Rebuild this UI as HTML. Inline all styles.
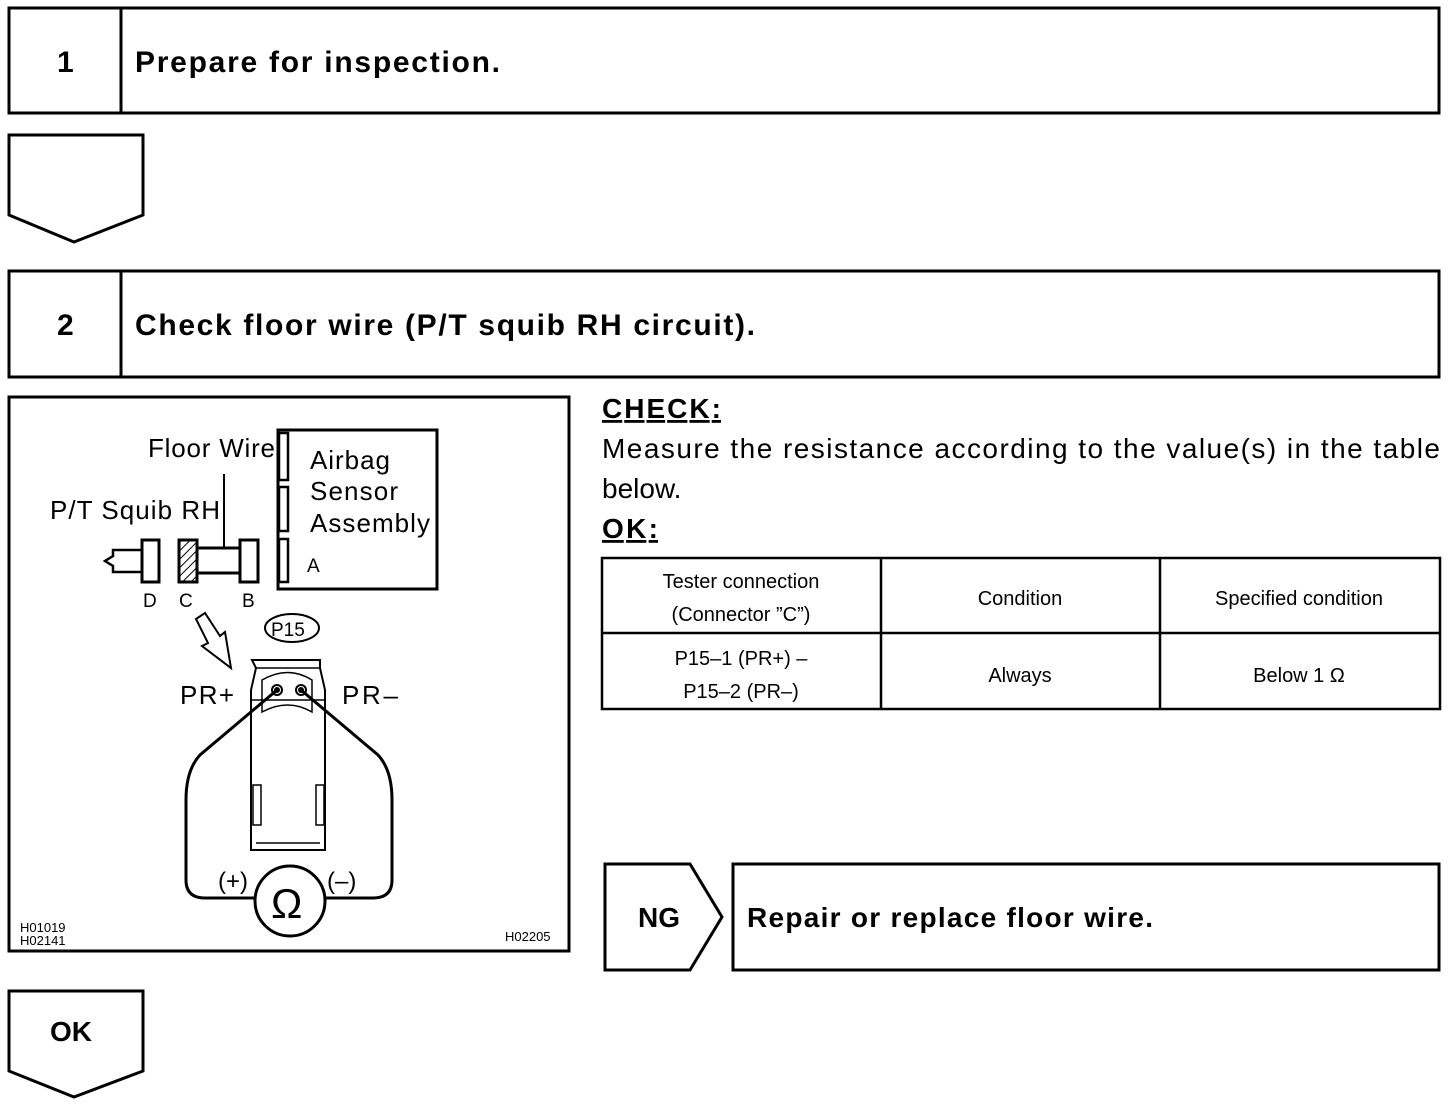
<!DOCTYPE html>
<html><head><meta charset="utf-8"><style>
html,body{margin:0;padding:0;background:#fff}
svg{display:block}
text{font-family:"Liberation Sans",Arial,sans-serif;fill:#000}
</style></head><body>
<svg width="1456" height="1106" viewBox="0 0 1456 1106" xmlns="http://www.w3.org/2000/svg">
<g fill="none" stroke="#000" stroke-width="3">
<rect x="9" y="8" width="1430" height="105"/>
<line x1="121" y1="8" x2="121" y2="113"/>
<path d="M9 135 H143 V215 L74 242 L9 215 Z"/>
<rect x="9" y="271" width="1430" height="106"/>
<line x1="121" y1="271" x2="121" y2="377"/>
<rect x="9" y="397" width="560" height="554"/>
<rect x="602" y="558" width="838" height="151" stroke-width="2.5"/>
<line x1="881" y1="558" x2="881" y2="709" stroke-width="2.5"/>
<line x1="1160" y1="558" x2="1160" y2="709" stroke-width="2.5"/>
<line x1="602" y1="633" x2="1440" y2="633" stroke-width="2.5"/>
<path d="M605 864 H690 L722 917 L690 970 H605 Z"/>
<rect x="733" y="864" width="706" height="106"/>
<path d="M9 991 H143 V1071 L74 1097 L9 1071 Z"/>
</g>
<text x="57" y="72" font-size="30" font-weight="bold">1</text>
<text x="135" y="72" font-size="30" font-weight="bold" textLength="365" lengthAdjust="spacing">Prepare for inspection.</text>
<text x="57" y="335" font-size="30" font-weight="bold">2</text>
<text x="135" y="335" font-size="30" font-weight="bold" textLength="620" lengthAdjust="spacing">Check floor wire (P/T squib RH circuit).</text>
<text x="602" y="418" font-size="28" font-weight="bold" text-decoration="underline" textLength="119">CHECK:</text>
<text x="602" y="458" font-size="28" textLength="838" lengthAdjust="spacing">Measure the resistance according to the value(s) in the table</text>
<text x="602" y="498" font-size="28">below.</text>
<text x="602" y="538" font-size="28" font-weight="bold" text-decoration="underline" textLength="56">OK:</text>
<g font-size="20" text-anchor="middle">
<text x="741" y="588">Tester connection</text>
<text x="741" y="621">(Connector ”C”)</text>
<text x="1020" y="605">Condition</text>
<text x="1299" y="605">Specified condition</text>
<text x="741" y="665">P15–1 (PR+) –</text>
<text x="741" y="698">P15–2 (PR–)</text>
<text x="1020" y="682">Always</text>
<text x="1299" y="682">Below 1 Ω</text>
</g>
<text x="638" y="927" font-size="28" font-weight="bold">NG</text>
<text x="747" y="927" font-size="28" font-weight="bold" textLength="406" lengthAdjust="spacing">Repair or replace floor wire.</text>
<text x="50" y="1041" font-size="28" font-weight="bold">OK</text>
<defs><pattern id="h" width="6" height="6" patternUnits="userSpaceOnUse" patternTransform="rotate(45)"><line x1="0" y1="0" x2="0" y2="6" stroke="#000" stroke-width="2"/></pattern></defs>
<g fill="none" stroke="#000" stroke-width="3">
<rect x="278" y="430" width="159" height="159"/>
<rect x="279" y="433" width="9" height="47" stroke-width="2.5"/>
<rect x="279" y="487" width="9" height="44" stroke-width="2.5"/>
<rect x="279" y="539" width="9" height="43" stroke-width="2.5"/>
<rect x="142" y="540" width="17" height="42"/>
<rect x="179" y="540" width="18" height="42" fill="url(#h)"/>
<rect x="240" y="540" width="18" height="42"/>
<path d="M197 548 H240 M197 573 H240"/>
<path d="M142 550 H113 V556 L105 561 L113 566 V572 H142" stroke-width="2.5"/>
<line x1="224" y1="474" x2="224" y2="548" stroke-width="2"/>
<ellipse cx="292" cy="628" rx="27" ry="14" stroke-width="2"/>
<path d="M196 619 L205 613 L220 636 L225 632 L231 668 L202 646 L208 643 Z" stroke-width="2"/>
<path d="M252 660 H320 V668 L325 690 V850 H251 V690 L256 668 Z" stroke-width="2"/>
<path d="M256 668 L320 668 M251 700 H325 M256 843 H320 M262 680 Q288 665 312 680 L312 712 Q288 698 262 712 Z" stroke-width="1.5"/>
<rect x="253" y="785" width="8" height="40" stroke-width="1.5"/>
<rect x="316" y="785" width="8" height="40" stroke-width="1.5"/>
<circle cx="277" cy="690" r="5" stroke-width="2"/>
<circle cx="301" cy="690" r="5" stroke-width="2"/>
<path d="M277 690 L200 755 Q186 770 186 800 V880 Q186 898 205 898 H255"/>
<path d="M301 690 L378 755 Q392 770 392 800 V880 Q392 898 373 898 H325"/>
<circle cx="290" cy="901" r="35"/>
</g>
<circle cx="277" cy="690" r="3" fill="#000"/><circle cx="301" cy="690" r="3" fill="#000"/>
<g font-size="26">
<text x="148" y="457" textLength="127">Floor Wire</text>
<text x="50" y="519" textLength="170">P/T Squib RH</text>
<text x="310" y="469" textLength="80">Airbag</text>
<text x="310" y="500" textLength="88">Sensor</text>
<text x="310" y="532" textLength="120">Assembly</text>
<text x="180" y="704" textLength="54">PR+</text>
<text x="342" y="704" textLength="56">PR–</text>
<text x="271" y="918" font-size="42">Ω</text>
<text x="218" y="889" font-size="24">(+)</text>
<text x="327" y="889" font-size="24">(–)</text>
</g>
<g font-size="19">
<text x="307" y="572">A</text>
<text x="143" y="607">D</text>
<text x="179" y="607">C</text>
<text x="242" y="607">B</text>
<text x="271" y="636">P15</text>
</g>
<g font-size="13">
<text x="20" y="932">H01019</text>
<text x="20" y="945">H02141</text>
<text x="505" y="941">H02205</text>
</g>
</svg>
</body></html>
